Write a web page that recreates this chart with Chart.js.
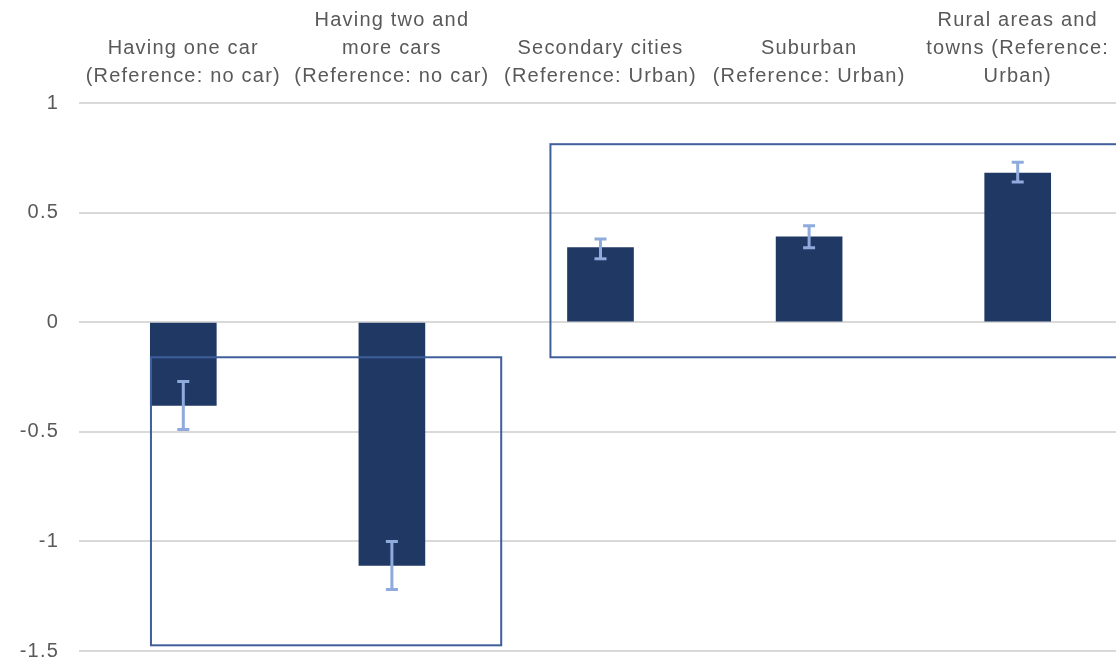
<!DOCTYPE html>
<html>
<head>
<meta charset="utf-8">
<script src="https://cdn.jsdelivr.net/npm/chart.js@4/dist/chart.umd.min.js"></script>
<style>
  html, body { margin: 0; padding: 0; background: #fff; overflow: hidden; }
  #wrap { width: 1122px; height: 683px; }
</style>
</head>
<body>
<div id="wrap"><canvas id="myChart"></canvas></div>
<script>
// categories (multi-line labels)
var categories = [
  ['Having one car', '(Reference: no car)'],
  ['Having two and', 'more cars', '(Reference: no car)'],
  ['Secondary cities', '(Reference: Urban)'],
  ['Suburban', '(Reference: Urban)'],
  ['Rural areas and', 'towns (Reference:', 'Urban)']
];
var coef_values = [-0.38, -1.11, 0.34, 0.39, 0.68];
var err_low = [-0.49, -1.22, 0.29, 0.34, 0.64];
var err_high = [-0.27, -1.00, 0.38, 0.44, 0.73];
var y_ticks = [1, 0.5, 0, -0.5, -1, -1.5];

// highlight boxes, in axis units (category index, value)
var box_x_from = [-0.155, 1.76];
var box_x_to = [1.524, 4.7];
var box_y_from = [-0.16, 0.812];
var box_y_to = [-1.474, -0.16];

var spacing_plugin = {
  id: 'spacing',
  beforeDraw: function (chart) {
    chart.ctx.letterSpacing = '1.2px';
  }
};

var errorbar_plugin = {
  id: 'errorbars',
  afterDatasetsDraw: function (chart) {
    var ctx = chart.ctx;
    var xs = chart.scales.x, ys = chart.scales.y;
    ctx.save();
    ctx.strokeStyle = '#8FAADC';
    ctx.lineWidth = 3;
    for (var i = 0; i < coef_values.length; i++) {
      var x = xs.getPixelForValue(i);
      var y1 = ys.getPixelForValue(err_low[i]);
      var y2 = ys.getPixelForValue(err_high[i]);
      ctx.beginPath();
      ctx.moveTo(x, y1); ctx.lineTo(x, y2);
      ctx.moveTo(x - 6, y1); ctx.lineTo(x + 6, y1);
      ctx.moveTo(x - 6, y2); ctx.lineTo(x + 6, y2);
      ctx.stroke();
    }
    ctx.restore();
  }
};

var box_plugin = {
  id: 'boxes',
  afterDatasetsDraw: function (chart) {
    var ctx = chart.ctx;
    var xs = chart.scales.x, ys = chart.scales.y;
    ctx.save();
    ctx.strokeStyle = '#3F5E9C';
    ctx.lineWidth = 2;
    for (var i = 0; i < box_x_from.length; i++) {
      var l = xs.getPixelForValue(box_x_from[i]);
      var r = xs.getPixelForValue(box_x_to[i]);
      var t = ys.getPixelForValue(box_y_from[i]);
      var b = ys.getPixelForValue(box_y_to[i]);
      ctx.strokeRect(l, Math.min(t, b), r - l, Math.abs(b - t));
    }
    ctx.restore();
  }
};

function create_chart_bar (chart_id) {
  var ctx = document.getElementById(chart_id).getContext('2d');

  var chartdata = {
    labels: categories,
    datasets: [{
      label: 'Coefficient',
      backgroundColor: '#203864',
      borderWidth: 0,
      data: coef_values,
      barThickness: 66
    }]
  };

  var chart = new Chart(ctx, {
    type: 'bar',
    data: chartdata,
    plugins: [spacing_plugin, box_plugin, errorbar_plugin],
    options: {
      responsive: true,
      maintainAspectRatio: false,
      animation: false,
      layout: { padding: { top: 0, right: 0, bottom: 0, left: 0 } },
      plugins: { legend: { display: false }, tooltip: { enabled: false } },
      scales: {
        x: {
          position: 'top',
          grid: { display: false },
          border: { display: false },
          ticks: {
            color: '#595959',
            font: { family: 'Liberation Sans', size: 20, lineHeight: 1.4 },
            maxRotation: 0,
            autoSkip: false,
            padding: 5
          },
          afterFit: function (axis) { axis.height = 103; }
        },
        y: {
          min: -1.5,
          max: 1,
          afterBuildTicks: function (axis) {
            axis.ticks = y_ticks.map(function (v) { return { value: v }; });
          },
          grid: { color: '#D9D9D9', lineWidth: 2, drawTicks: false },
          border: { display: false },
          ticks: {
            color: '#595959',
            font: { family: 'Liberation Sans', size: 20 },
            padding: 20,
            callback: function (value) { return String(value); }
          },
          afterFit: function (axis) { axis.width = 79; }
        }
      }
    }
  });
}

create_chart_bar('myChart');
</script>
</body>
</html>
